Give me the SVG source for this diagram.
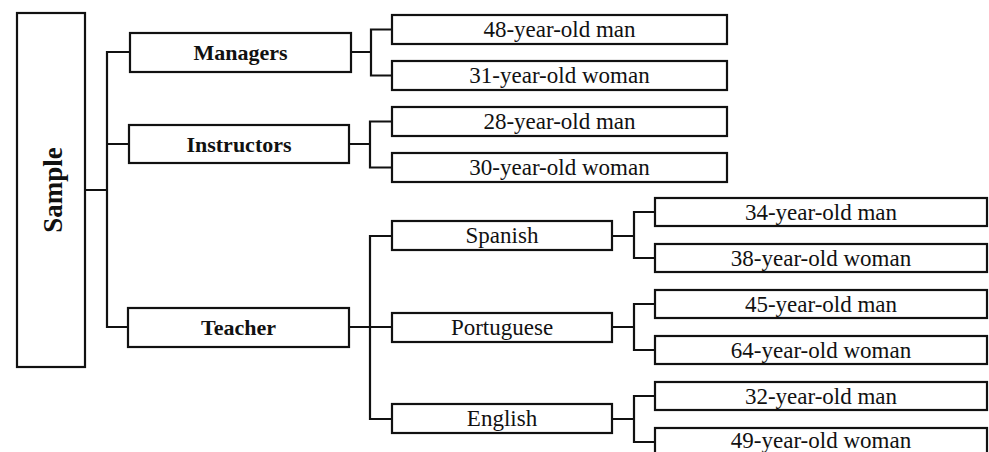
<svg xmlns="http://www.w3.org/2000/svg" width="989" height="452" viewBox="0 0 989 452">
<style>
.box{fill:#fff;stroke:#111;stroke-width:2.2}
.ln{fill:none;stroke:#111;stroke-width:2.2}
</style>
<rect width="989" height="452" fill="#fff"/>
<g id="connectors" class="ln">
<path d="M85,190 H107 M130,52 H107 V327 H128 M107,144 H129"/>
<path d="M351,52 H371 M392,29.5 H371 V75.5 H392"/>
<path d="M349,144 H370 M392,121.5 H370 V167.5 H392"/>
<path d="M349,327 H392 M392,236 H370 V419 H392"/>
<path d="M612,236 H634 M655,212 H634 V258 H655"/>
<path d="M612,327 H634 M655,304 H634 V350 H655"/>
<path d="M612,419 H634 M655,396 H634 V442 H655"/>
</g>
<g font-family="Liberation Serif, Times New Roman, serif" fill="#111" text-anchor="middle" font-weight="bold" font-size="22">
<g id="sample"><rect class="box" x="17" y="13" width="68" height="354"/><text font-size="27" transform="translate(62,190) rotate(-90)">Sample</text></g>
<g id="managers"><rect class="box" x="130" y="33" width="221" height="39"/><text x="240.5" y="60">Managers</text></g>
<g id="instructors"><rect class="box" x="129" y="125" width="220" height="38"/><text x="239" y="151.5">Instructors</text></g>
<g id="teacher"><rect class="box" x="128" y="308" width="221" height="39"/><text x="238.5" y="334.5">Teacher</text></g>
</g>
<g font-family="Liberation Serif, Times New Roman, serif" fill="#111" text-anchor="middle" font-weight="normal" font-size="23">
<g id="m48"><rect class="box" x="392" y="15" width="335" height="29"/><text x="559.5" y="37">48-year-old man</text></g>
<g id="w31"><rect class="box" x="392" y="61" width="335" height="29"/><text x="559.5" y="83">31-year-old woman</text></g>
<g id="m28"><rect class="box" x="392" y="107" width="335" height="29"/><text x="559.5" y="129">28-year-old man</text></g>
<g id="w30"><rect class="box" x="392" y="153" width="335" height="29"/><text x="559.5" y="175">30-year-old woman</text></g>
<g id="spanish"><rect class="box" x="392" y="221" width="220" height="29"/><text x="502" y="243">Spanish</text></g>
<g id="portuguese"><rect class="box" x="392" y="313" width="220" height="29"/><text x="502" y="335">Portuguese</text></g>
<g id="english"><rect class="box" x="392" y="404" width="220" height="29"/><text x="502" y="426">English</text></g>
<g id="m34"><rect class="box" x="655" y="198" width="332" height="28"/><text x="821" y="219.5">34-year-old man</text></g>
<g id="w38"><rect class="box" x="655" y="244" width="332" height="28"/><text x="821" y="265.5">38-year-old woman</text></g>
<g id="m45"><rect class="box" x="655" y="290" width="332" height="28"/><text x="821" y="311.5">45-year-old man</text></g>
<g id="w64"><rect class="box" x="655" y="336" width="332" height="28"/><text x="821" y="357.5">64-year-old woman</text></g>
<g id="m32"><rect class="box" x="655" y="382" width="332" height="28"/><text x="821" y="403.5">32-year-old man</text></g>
<g id="w49"><rect class="box" x="655" y="428" width="332" height="28"/><text x="821" y="448">49-year-old woman</text></g>
</g>
</svg>
